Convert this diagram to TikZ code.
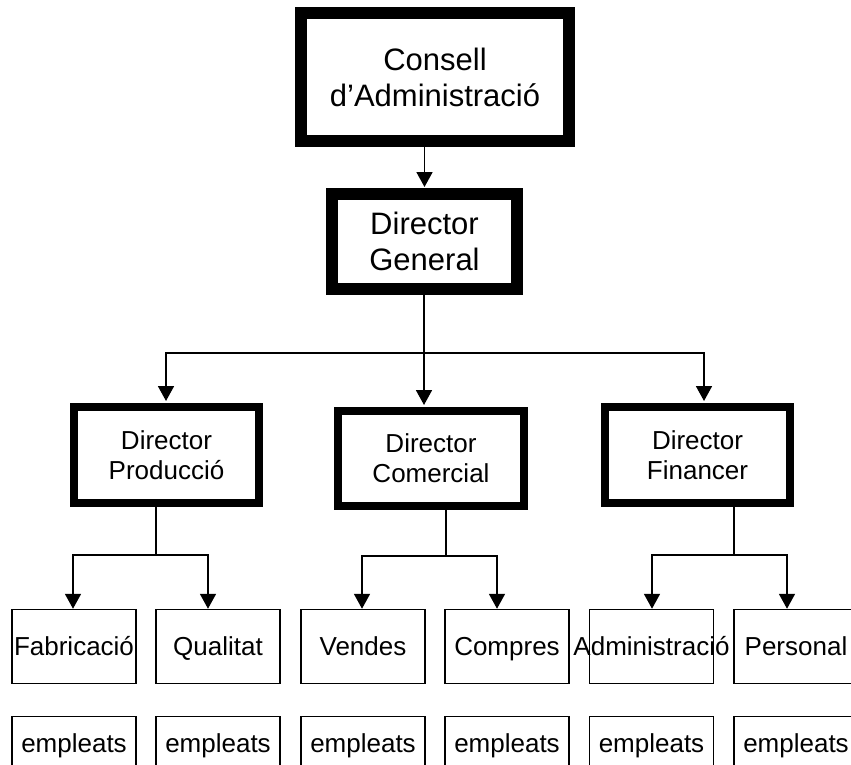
\documentclass[tikz,border=0pt]{standalone}
\usepackage{fontspec}
\setmainfont{Liberation Sans}
\usetikzlibrary{arrows.meta}
\begin{document}
\begin{tikzpicture}[x=1pt,y=-1pt,
  bigbox/.style={draw, line width=12pt, inner sep=0pt, align=center, font=\fontsize{31}{36}\selectfont},
  dirbox/.style={draw, line width=8pt, inner sep=0pt, align=center, font=\fontsize{26}{30}\selectfont},
  unitbox/.style={draw, line width=1.5pt, inner sep=0pt, minimum width=124pt, minimum height=74pt, text height=18.6pt, text depth=0pt, font=\fontsize{26}{30}\selectfont},
  staffbox/.style={unitbox, minimum height=53pt},
  conn/.style={line width=1.8pt, line cap=rect},
  arr/.style={line width=1.8pt, -{Triangle[width=16pt,length=15pt]}}
]
\useasboundingbox (0,0) rectangle (851,765);
\clip (0,0) rectangle (851,765);
\fill[white] (0,0) rectangle (851,765);

% top levels
\node[bigbox, minimum width=268pt, minimum height=128pt] (consell) at (435,77) {Consell\\d’Administració};
\node[bigbox, minimum width=185pt, minimum height=95pt] (dg) at (424.5,241.5) {Director\\General};

% directors
\node[dirbox, minimum width=185pt, minimum height=96pt] (dp) at (166.5,455) {Director\\Producció};
\node[dirbox, minimum width=186pt, minimum height=95pt] (dc) at (431,458.5) {Director\\Comercial};
\node[dirbox, minimum width=185pt, minimum height=96pt] (df) at (697.5,455) {Director\\Financer};

% units
\node[unitbox] (fab) at (74,646.5) {Fabricació};
\node[unitbox] (qual) at (218,646.5) {Qualitat};
\node[unitbox] (vend) at (363,646.5) {Vendes};
\node[unitbox] (comp) at (507,646.5) {Compres};
\node[unitbox] (adm) at (651.5,646.5) {\makebox[0pt]{Administració}};
\node[unitbox] (pers) at (796,646.5) {Personal};

% staff
\node[staffbox] (e1) at (74,743) {empleats};
\node[staffbox] (e2) at (218,743) {empleats};
\node[staffbox] (e3) at (363,743) {empleats};
\node[staffbox] (e4) at (507,743) {empleats};
\node[staffbox] (e5) at (651.5,743) {empleats};
\node[staffbox] (e6) at (796,743) {empleats};

% connectors
\draw[arr, shorten >=1pt] (dg.north |- consell.south) -- (dg.north);

\coordinate (b0) at (424,353);
\coordinate (b0l) at (166,353);
\coordinate (b0r) at (704,353);
\draw[conn] (dg.south -| b0) -- (b0);
\draw[conn] (b0l) -- (b0r);
\draw[arr, shorten >=2pt] (b0l) -- (b0l |- dp.north);
\draw[arr, shorten >=2pt] (b0) -- (b0 |- dc.north);
\draw[arr, shorten >=2pt] (b0r) -- (b0r |- df.north);

\coordinate (jp) at (156,555);
\coordinate (jpl) at (73,555);
\coordinate (jpr) at (208,555);
\draw[conn] (dp.south -| jp) -- (jp);
\draw[conn] (jpl) -- (jpr);
\draw[arr] (jpl) -- (jpl |- fab.north);
\draw[arr] (jpr) -- (jpr |- qual.north);

\coordinate (jc) at (446,556);
\coordinate (jcl) at (362,556);
\coordinate (jcr) at (497,556);
\draw[conn] (dc.south -| jc) -- (jc);
\draw[conn] (jcl) -- (jcr);
\draw[arr] (jcl) -- (jcl |- vend.north);
\draw[arr] (jcr) -- (jcr |- comp.north);

\coordinate (jf) at (734,555);
\coordinate (jfl) at (652,555);
\coordinate (jfr) at (787,555);
\draw[conn] (df.south -| jf) -- (jf);
\draw[conn] (jfl) -- (jfr);
\draw[arr] (jfl) -- (jfl |- adm.north);
\draw[arr] (jfr) -- (jfr |- pers.north);
\end{tikzpicture}
\end{document}
